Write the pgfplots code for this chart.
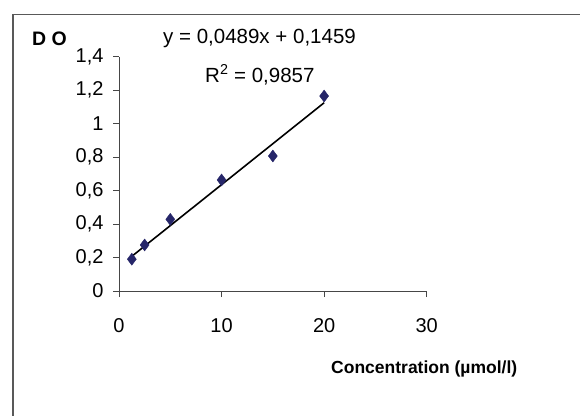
\documentclass[border=0pt]{standalone}
\usepackage{pgfplots}
\pgfplotsset{compat=1.18}
\usepackage{fontspec}
\setmainfont{Liberation Sans}
\definecolor{navy}{RGB}{38,38,105}
\definecolor{axgray}{RGB}{70,70,70}
\begin{document}
\begin{tikzpicture}
\useasboundingbox (0pt,0pt) rectangle (580pt,-415pt);
\draw[gray!70!black, line width=1.5pt] (13pt,-420pt) -- (13pt,-14.5pt) -- (585pt,-14.5pt);
\begin{axis}[
  at={(119pt,-291pt)}, anchor=south west,
  scale only axis, width=307.7pt, height=234.5pt,
  xmin=0, xmax=30, ymin=0, ymax=1.4,
  axis lines=left,
  axis line style={-, line width=0.8pt, axgray},
  xtick={0,10,20,30},
  ytick={0,0.2,0.4,0.6,0.8,1,1.2,1.4},
  tick align=outside, major tick length=6pt,
  tick style={line width=0.8pt, axgray},
  /pgf/number format/use comma,
  /pgf/number format/assume math mode=true,
  ticklabel style={font=\fontsize{20}{22}\selectfont},
  xticklabel style={yshift=-18pt},
  yticklabel style={xshift=-6pt},
  clip=false,
]
\addplot[only marks, mark=diamond*, mark size=6pt, color=navy]
  coordinates {(1.25,0.19) (2.5,0.275) (5,0.428) (10,0.663) (15,0.806) (20,1.164)};
\addplot[black, line width=1.6pt] coordinates {(1.25,0.2070) (20,1.1239)};
\end{axis}
\node[anchor=base west, inner sep=0, font=\bfseries\fontsize{19.5}{21}\selectfont] at (32pt,-45pt) {D O};
\node[anchor=base west, inner sep=0, font=\fontsize{20.5}{22}\selectfont] at (163pt,-43pt) {y = 0,0489x + 0,1459};
\node[anchor=base west, inner sep=0, font=\fontsize{20.5}{22}\selectfont] at (205pt,-82pt) {R\textsuperscript{2} = 0,9857};
\node[anchor=base west, inner sep=0, font=\bfseries\fontsize{17.5}{20}\selectfont] at (331pt,-373pt) {Concentration (µmol/l)};
\end{tikzpicture}
\end{document}
